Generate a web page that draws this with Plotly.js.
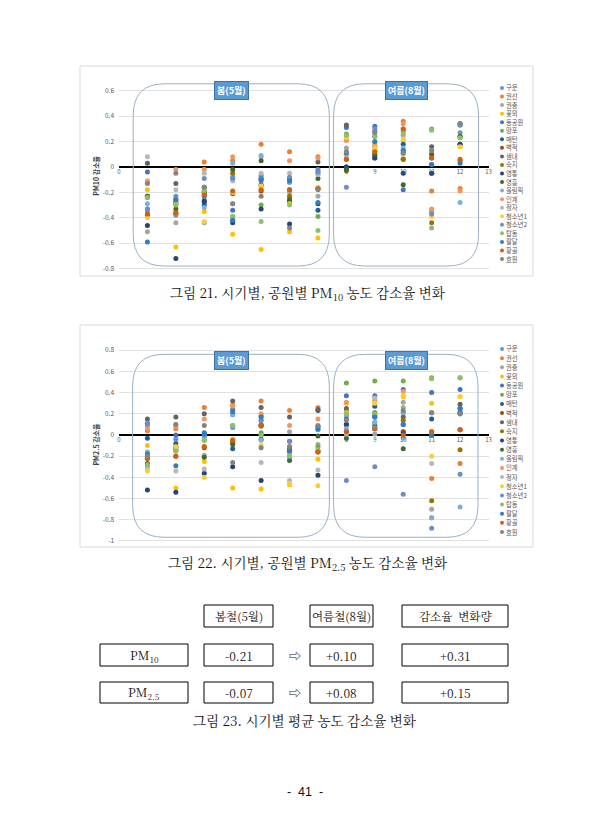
<!DOCTYPE html>
<html>
<head>
<meta charset="utf-8">
<script src="https://cdn.plot.ly/plotly-3.0.1.min.js"></script>
<style>html,body{margin:0;padding:0;background:#fff;}#page{width:614px;height:840px;}</style>
</head>
<body>
<div id="page"></div>
<script>
// ---------- DATA ----------
const parks = ['구운','권선','권중','꽃뫼','동공원','망포','매탄','벽적','샘내','숙지','영통','영흥','올림픽','인계','정자','청소년1','청소년2','탑동','팔달','황골','효원'];
const parkColors = ['#5B9BD5','#ED7D31','#A5A5A5','#FFC000','#4472C4','#70AD47','#255E91','#9E480E','#636363','#997300','#264478','#43682B','#7CAFDD','#F1975A','#B7B7B7','#FFCD33','#698ED0','#8CC168','#327DC2','#D26012','#848484'];
const periods = [1,2,3,4,5,6,7,8,9,10,11,12];
const xTickVals = [0,8,9,10,11,12,13];
const xTickText = ['0','8','9','10','11','12','13'];
const pm10TickVals = [-0.8,-0.6,-0.4,-0.2,0,0.2,0.4,0.6];
const pm10TickText = ['-0.8','-0.6','-0.4','-0.2','0','0.2','0.4','0.6'];
const pm25TickVals = [-1,-0.8,-0.6,-0.4,-0.2,0,0.2,0.4,0.6,0.8];
const pm25TickText = ['-1','-0.8','-0.6','-0.4','-0.2','0','0.2','0.4','0.6','0.8'];

// PM10 reduction rate, one array per period (values in park order)
const pm10_p1  = [-0.33,-0.34,-0.51,-0.18,-0.04,-0.24,-0.23,-0.38,0.03,-0.37,-0.46,-0.23,-0.29,-0.11,0.08,-0.40,-0.33,-0.24,-0.59,-0.37,-0.13];
const pm10_p2  = [-0.38,-0.37,-0.44,-0.63,-0.26,-0.29,-0.28,-0.36,-0.13,-0.29,-0.72,-0.33,-0.25,-0.02,-0.18,-0.29,-0.23,-0.30,-0.26,-0.36,-0.05];
const pm10_p3  = [-0.26,0.04,-0.44,-0.35,-0.28,-0.19,-0.30,-0.22,-0.16,-0.20,-0.27,-0.20,-0.32,-0.02,-0.05,-0.43,-0.09,-0.19,-0.23,-0.22,-0.16];
const pm10_p4  = [-0.08,0.05,-0.29,-0.53,-0.34,-0.39,-0.42,-0.20,-0.21,-0.05,-0.44,-0.02,0.03,0.08,-0.11,-0.20,-0.09,-0.39,-0.42,-0.19,-0.29];
const pm10_p5  = [-0.11,0.18,0.08,-0.65,-0.07,-0.30,-0.09,-0.19,-0.14,-0.15,-0.33,0.05,0.09,-0.18,-0.05,-0.15,-0.09,-0.43,-0.10,-0.18,-0.23];
const pm10_p6  = [-0.12,0.12,-0.20,-0.51,-0.09,-0.24,-0.27,-0.18,-0.10,-0.23,-0.45,-0.26,-0.12,0.05,-0.05,-0.29,-0.08,-0.30,-0.11,-0.18,-0.48];
const pm10_p7  = [-0.02,0.08,-0.23,-0.56,-0.04,-0.39,-0.34,-0.17,0.04,-0.17,-0.29,-0.09,-0.06,0.07,-0.06,-0.16,-0.04,-0.50,-0.28,-0.17,-0.18];
const pm10_p8  = [0.10,0.21,0.15,0.24,0.31,0.26,0.00,0.06,0.33,-0.03,0.00,-0.02,0.10,0.21,0.09,0.23,-0.16,0.25,0.11,0.06,0.12];
const pm10_p9  = [0.16,0.19,0.16,0.14,0.32,0.24,0.07,0.09,0.28,0.12,0.07,0.10,0.24,0.17,0.25,0.15,0.30,0.24,0.20,0.12,0.27];
const pm10_p10 = [0.13,0.36,0.25,0.21,-0.18,0.28,0.18,0.06,0.11,0.06,-0.05,-0.14,0.15,0.34,0.10,0.22,0.30,0.27,0.13,0.30,0.11];
const pm10_p11 = [-0.35,-0.19,-0.48,0.11,0.02,0.30,-0.05,0.07,0.16,-0.44,-0.05,0.10,-0.35,-0.33,0.13,-0.39,-0.37,0.29,0.02,0.07,0.13];
const pm10_p12 = [0.27,-0.17,0.34,0.16,0.33,0.23,0.18,0.05,0.34,0.24,0.18,0.24,-0.28,-0.19,0.33,0.16,0.33,0.23,0.03,0.06,0.34];

// PM2.5 reduction rate, one array per period (values in park order)
const pm25_p1  = [0.09,0.04,-0.20,-0.10,0.11,-0.29,-0.03,-0.22,0.15,-0.22,-0.52,-0.27,-0.16,0.06,-0.32,-0.34,0.11,-0.28,-0.18,-0.22,-0.20];
const pm25_p2  = [-0.14,0.06,0.10,-0.50,0.00,-0.15,-0.08,-0.20,0.17,-0.11,-0.54,-0.12,-0.14,0.08,-0.34,-0.11,-0.04,-0.15,-0.29,-0.20,0.10];
const pm25_p3  = [-0.02,0.26,-0.19,-0.25,0.02,-0.05,0.00,-0.12,0.20,-0.11,-0.36,-0.21,-0.02,0.15,-0.32,-0.40,0.00,-0.05,0.01,-0.11,0.09];
const pm25_p4  = [0.19,0.28,0.20,-0.50,0.24,0.09,-0.13,-0.07,0.32,-0.06,-0.30,-0.09,0.19,0.27,-0.04,-0.04,0.07,0.09,0.22,-0.05,-0.26];
const pm25_p5  = [0.14,0.32,0.08,-0.51,0.18,0.02,-0.04,0.09,0.26,0.10,-0.43,0.00,-0.05,0.20,-0.26,-0.10,0.14,0.00,0.17,0.09,-0.12];
const pm25_p6  = [-0.21,0.23,0.03,-0.47,-0.06,-0.19,-0.15,-0.12,0.17,-0.13,-0.15,-0.24,-0.20,0.09,-0.43,-0.46,-0.06,-0.19,-0.15,-0.11,-0.11];
const pm25_p7  = [0.05,0.26,-0.09,-0.23,0.08,-0.11,0.23,-0.16,0.24,-0.15,-0.38,-0.01,0.06,0.15,-0.33,-0.48,0.08,-0.14,0.06,-0.16,0.09];
const pm25_p8  = [0.19,0.03,0.17,0.30,0.37,0.49,0.10,0.03,0.25,0.22,0.10,-0.03,0.06,0.31,0.01,0.21,-0.43,0.20,0.15,0.03,0.14];
const pm25_p9  = [0.12,0.06,0.01,0.32,0.37,0.51,0.27,0.06,0.21,0.19,0.17,0.09,0.12,0.33,0.35,0.30,-0.30,0.20,0.17,0.06,0.07];
const pm25_p10 = [0.21,0.03,0.31,0.36,0.43,0.51,0.10,0.03,0.17,0.14,0.01,-0.13,0.21,0.41,-0.03,0.37,-0.56,0.26,0.10,0.00,0.23];
const pm25_p11 = [-0.78,-0.41,-0.70,0.30,0.40,0.54,0.15,0.03,0.21,-0.62,0.00,0.00,-0.78,0.03,-0.27,-0.20,-0.88,0.53,0.00,0.03,0.21];
const pm25_p12 = [0.22,-0.27,0.20,0.36,0.43,0.54,0.25,0.05,0.29,-0.14,0.20,0.21,-0.68,0.05,0.20,0.36,-0.37,0.54,0.25,0.05,0.20];

// Seasons, captions, titles
const seasonLabels = ['봄(5월)','여름(8월)'];
const captions = ['그림 21. 시기별, 공원별 PM<sub>10</sub> 농도 감소율 변화','그림 22. 시기별, 공원별 PM<sub>2.5</sub> 농도 감소율 변화','그림 23. 시기별 평균 농도 감소율 변화'];
const yTitles = ['PM10 감소율','PM2.5 감소율'];

// Figure 23 table
const tableHeaders = ['봄철(5월)','여름철(8월)','감소율  변화량'];
const tableRowLabels = ['PM<sub>10</sub>','PM<sub>2.5</sub>'];
const springMeans = ['-0.21','-0.07'];
const summerMeans = ['+0.10','+0.08'];
const meanChanges = ['+0.31','+0.15'];
const pageNumber = '-  41  -';

// ---------- BUILD ----------
const W = 614, H = 840;
const PX = p => p / W;
const PY = p => 1 - p / H;

const pm10Cols = [pm10_p1,pm10_p2,pm10_p3,pm10_p4,pm10_p5,pm10_p6,pm10_p7,pm10_p8,pm10_p9,pm10_p10,pm10_p11,pm10_p12];
const pm25Cols = [pm25_p1,pm25_p2,pm25_p3,pm25_p4,pm25_p5,pm25_p6,pm25_p7,pm25_p8,pm25_p9,pm25_p10,pm25_p11,pm25_p12];

const traces = [];
parks.forEach((name, i) => {
  traces.push({type:'scatter', mode:'markers', name, x: periods, y: pm10Cols.map(c => c[i]),
    xaxis:'x', yaxis:'y', marker:{color: parkColors[i], size:5}, showlegend:false, cliponaxis:false, hoverinfo:'skip'});
});
parks.forEach((name, i) => {
  traces.push({type:'scatter', mode:'markers', name, x: periods, y: pm25Cols.map(c => c[i]),
    xaxis:'x2', yaxis:'y2', marker:{color: parkColors[i], size:5}, showlegend:false, cliponaxis:false, hoverinfo:'skip'});
});
// custom legends: marker traces on hidden axes + text annotations
const legendIdx = parks.map((_, i) => i);
traces.push({type:'scatter', mode:'markers', x: parks.map(() => 0), y: legendIdx,
  marker:{color: parkColors, size:4}, xaxis:'x3', yaxis:'y3', showlegend:false, cliponaxis:false, hoverinfo:'skip'});
traces.push({type:'scatter', mode:'markers', x: parks.map(() => 0), y: legendIdx,
  marker:{color: parkColors, size:4}, xaxis:'x4', yaxis:'y4', showlegend:false, cliponaxis:false, hoverinfo:'skip'});

const tickFont = {size:6.5, color:'#595959', family:'Noto Sans CJK KR'};
const xDom = [PX(119), PX(488.5)];
const y1Range = [-0.82, 0.68], y1Dom = [PY(271.1), PY(80.64)];
const y2Range = [-1.02, 0.84], y2Dom = [PY(543.1), PY(345.96)];
const zeroPos = (dom, rng) => dom[0] + (0 - rng[0]) / (rng[1] - rng[0]) * (dom[1] - dom[0]);

function xAxisDef(dom, rng) {
  return {domain: xDom, range:[0,13], anchor:'free', position: zeroPos(dom, rng),
    tickmode:'array', tickvals: xTickVals, ticktext: xTickText, showgrid:false, zeroline:false,
    showline:false, ticks:'', tickfont:{size:6, color:'#595959', family:'Noto Sans CJK KR'}, fixedrange:true};
}
function yAxisDef(dom, rng, tv, tt, title, anchor) {
  return {domain: dom, range: rng, anchor, tickmode:'array', tickvals: tv, ticktext: tt,
    showgrid:true, gridcolor:'#D9D9D9', gridwidth:0.8, zeroline:true, zerolinecolor:'#000', zerolinewidth:1.6,
    showline:false, ticks:'', tickfont: tickFont, ticklabelstandoff:4,
    title:{text: title, font:{size:7, color:'#404040', family:'Noto Sans CJK KR', weight:'bold'}, standoff:2}, fixedrange:true};
}

function roundRect(x0, x1, y0, y1, rx, ry) {
  return `M ${x0+rx},${y1} L ${x1-rx},${y1} Q ${x1},${y1} ${x1},${y1-ry} L ${x1},${y0+ry} Q ${x1},${y0} ${x1-rx},${y0} L ${x0+rx},${y0} Q ${x0},${y0} ${x0},${y0+ry} L ${x0},${y1-ry} Q ${x0},${y1} ${x0+rx},${y1} Z`;
}

const boxLine = {color:'#9AB0C6', width:1};
const shapes = [
  {type:'rect', xref:'paper', yref:'paper', x0:PX(80), x1:PX(533), y0:PY(276), y1:PY(66), line:{color:'#D9D9D9', width:1}},
  {type:'rect', xref:'paper', yref:'paper', x0:PX(80), x1:PX(533), y0:PY(547), y1:PY(325), line:{color:'#D9D9D9', width:1}},
  {type:'path', xref:'x', yref:'y', path: roundRect(0.5, 7.4, -0.78, 0.655, 1.1, 0.25), line: boxLine},
  {type:'path', xref:'x', yref:'y', path: roundRect(7.55, 12.65, -0.78, 0.655, 1.1, 0.25), line: boxLine},
  {type:'path', xref:'x2', yref:'y2', path: roundRect(0.48, 7.4, -0.965, 0.761, 1.1, 0.3), line: boxLine},
  {type:'path', xref:'x2', yref:'y2', path: roundRect(7.55, 12.63, -0.965, 0.761, 1.1, 0.3), line: boxLine},
];

const serif = "'Noto Serif CJK KR', 'Liberation Serif', 'Noto Sans CJK KR', serif";
const annotations = [];
function seasonLabel(text, x, y, xr, yr) {
  annotations.push({text, x, y, xref:xr, yref:yr, showarrow:false, bgcolor:'#5B9BD5', bordercolor:'#41719C',
    borderwidth:1, borderpad:2, font:{size:9, color:'#fff', family:'Noto Sans CJK KR', weight:'bold'}});
}
seasonLabel(seasonLabels[0], 3.96, 0.6, 'x', 'y');
seasonLabel(seasonLabels[1], 10.1, 0.6, 'x', 'y');
seasonLabel(seasonLabels[0], 3.96, 0.70, 'x2', 'y2');
seasonLabel(seasonLabels[1], 10.1, 0.70, 'x2', 'y2');

// legend texts, placed on the hidden legend axes
parks.forEach((name, i) => {
  ['x3','x4'].forEach((xr, k) => {
    annotations.push({text:name, x:0, y:i, xref:xr, yref: k ? 'y4' : 'y3', xanchor:'left', yanchor:'middle',
      xshift:3, showarrow:false, borderpad:0, font:{size:6.3, color:'#595959', family:'Noto Sans CJK KR'}});
  });
});

function paperText(text, cx, cy, size, family) {
  annotations.push({text, x:PX(cx), y:PY(cy), xref:'paper', yref:'paper', showarrow:false,
    xanchor:'center', yanchor:'middle', font:{size, color:'#111', family: family || serif}});
}
paperText(captions[0], 307, 293, 13.5);
paperText(captions[1], 307, 563, 13.5);
paperText(captions[2], 304, 720, 13.5);
paperText(pageNumber, 305, 792, 12.5, "'Liberation Sans', sans-serif");

const colSpring = [204, 273], colSummer = [310, 373], colChange = [402, 508], colLabel = [100, 188];
const rowHeader = [605, 627], rowPM10 = [644, 666], rowPM25 = [682, 703];
function box(cx, cy) {
  shapes.push({type:'rect', xref:'paper', yref:'paper', x0:PX(cx[0]), x1:PX(cx[1]), y0:PY(cy[1]), y1:PY(cy[0]), line:{color:'#000', width:1}});
}
const mid = a => (a[0] + a[1]) / 2;
[colSpring, colSummer, colChange].forEach((c, k) => { box(c, rowHeader); paperText(tableHeaders[k], mid(c), mid(rowHeader), 11.5); });
[rowPM10, rowPM25].forEach((r, k) => {
  box(colLabel, r); paperText(tableRowLabels[k], mid(colLabel), mid(r), 12);
  box(colSpring, r); paperText(springMeans[k], mid(colSpring), mid(r), 12);
  paperText('⇨', 295, mid(r), 12);
  box(colSummer, r); paperText(summerMeans[k], mid(colSummer), mid(r), 12);
  box(colChange, r); paperText(meanChanges[k], mid(colChange), mid(r), 12);
});

const layout = {
  width: W, height: H, margin:{l:0, r:0, t:0, b:0}, paper_bgcolor:'#fff', plot_bgcolor:'rgba(0,0,0,0)',
  showlegend:false,
  xaxis: xAxisDef(y1Dom, y1Range),
  yaxis: yAxisDef(y1Dom, y1Range, pm10TickVals, pm10TickText, yTitles[0], 'x'),
  xaxis2: xAxisDef(y2Dom, y2Range),
  yaxis2: yAxisDef(y2Dom, y2Range, pm25TickVals, pm25TickText, yTitles[1], 'x2'),
  xaxis3: {domain:[PX(502), PX(540)], range:[0,1], visible:false, fixedrange:true},
  yaxis3: {domain:[PY(263.3), PY(83.7)], range:[20.5,-0.5], visible:false, anchor:'x3', fixedrange:true},
  xaxis4: {domain:[PX(502), PX(540)], range:[0,1], visible:false, fixedrange:true},
  yaxis4: {domain:[PY(536.6), PY(344.4)], range:[20.5,-0.5], visible:false, anchor:'x4', fixedrange:true},
  shapes, annotations
};
Plotly.newPlot('page', traces, layout, {staticPlot:true, displayModeBar:false});
</script>
</body>
</html>
